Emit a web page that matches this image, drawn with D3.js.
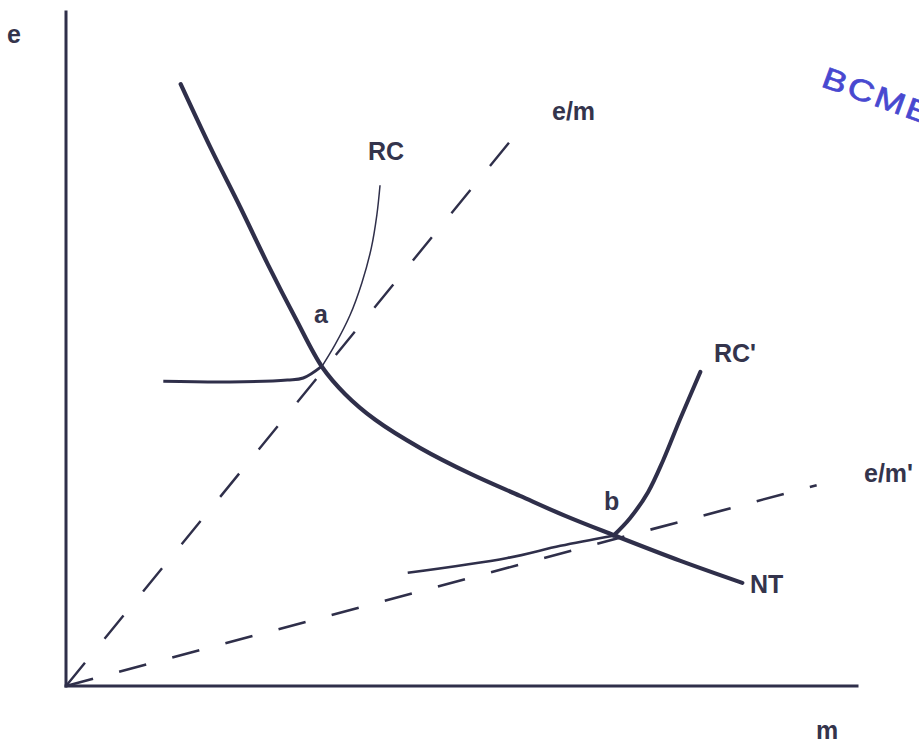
<!DOCTYPE html>
<html>
<head>
<meta charset="utf-8">
<script src="https://cdn.jsdelivr.net/npm/d3@7"></script>
<style>
  html, body { margin: 0; padding: 0; background: #ffffff; }
  svg { display: block; }
  text { font-family: "Liberation Sans", Arial, sans-serif; font-weight: bold; fill: #34344c; }
</style>
</head>
<body>
<div id="chart"></div>
<script>
// ---- data (model units: m on x, e on y, 0..100) ----
const ntM   = [14.5, 18.3, 22.0, 25.5, 29.0, 32.4, 35.3, 39.1, 44.8, 51.1, 57.4, 63.2, 69.2, 77.6, 85.5];
const ntE   = [89.3, 79.8, 71.1, 62.6, 54.6, 47.3, 43.3, 39.5, 35.3, 31.5, 28.2, 25.2, 22.4, 18.6, 15.3];

const rcFlatM = [12.3, 20.7, 28.0, 30.0, 32.4];
const rcFlatE = [45.2, 45.1, 45.4, 45.7, 47.5];
const rcRiseM = [32.4, 34.0, 35.9, 37.4, 38.6, 39.3, 39.7];
const rcRiseE = [47.5, 50.6, 55.0, 59.8, 65.0, 69.9, 74.3];

const rc2FlatM = [43.2, 55.8, 62.5, 69.2];
const rc2FlatE = [16.8, 19.0, 20.8, 22.3];
const rc2RiseM = [69.2, 71.3, 73.6, 75.5, 77.6, 80.2];
const rc2RiseE = [22.3, 24.9, 28.8, 33.5, 39.5, 46.6];

const emM  = [0, 57.1];
const emE  = [0, 82.2];
const em2M = [0, 94.9];
const em2E = [0, 29.8];

const labels = ["e", "m", "e/m", "RC", "a", "RC'", "e/m'", "b", "NT"];
const watermark = "BCME";

// ---- drawing ----
const W = 919, H = 744;
const ink = "#2f2f4a";
const svg = d3.select("#chart").append("svg").attr("width", W).attr("height", H);

const x = d3.scaleLinear().domain([0, 100]).range([66, 857]);
const y = d3.scaleLinear().domain([0, 100]).range([686, 12]);

const zip = (a, b) => a.map((v, i) => [v, b[i]]);
const smooth = d3.line().x(d => x(d[0])).y(d => y(d[1])).curve(d3.curveCatmullRom.alpha(0.5));
const straight = d3.line().x(d => x(d[0])).y(d => y(d[1]));

// axes
svg.append("line").attr("x1", x(0)).attr("y1", y(0)).attr("x2", x(0)).attr("y2", y(100))
  .attr("stroke", ink).attr("stroke-width", 3).attr("stroke-linecap", "square");
svg.append("line").attr("x1", x(0)).attr("y1", y(0)).attr("x2", x(100)).attr("y2", y(0))
  .attr("stroke", ink).attr("stroke-width", 3).attr("stroke-linecap", "square");

// dashed rays
svg.append("path").attr("d", straight(zip(emM, emE))).attr("fill", "none")
  .attr("stroke", ink).attr("stroke-width", 2.4).attr("stroke-dasharray", "30,31");
svg.append("path").attr("d", straight(zip(em2M, em2E))).attr("fill", "none")
  .attr("stroke", ink).attr("stroke-width", 2.6).attr("stroke-dasharray", "28,27");

// RC
svg.append("path").attr("d", smooth(zip(rcFlatM, rcFlatE))).attr("fill", "none")
  .attr("stroke", ink).attr("stroke-width", 3);
svg.append("path").attr("d", smooth(zip(rcRiseM, rcRiseE))).attr("fill", "none")
  .attr("stroke", ink).attr("stroke-width", 1.5);

// RC'
svg.append("path").attr("d", smooth(zip(rc2FlatM, rc2FlatE))).attr("fill", "none")
  .attr("stroke", ink).attr("stroke-width", 2.6);
svg.append("path").attr("d", smooth(zip(rc2RiseM, rc2RiseE))).attr("fill", "none")
  .attr("stroke", ink).attr("stroke-width", 4).attr("stroke-linecap", "round");

// NT
svg.append("path").attr("d", smooth(zip(ntM, ntE))).attr("fill", "none")
  .attr("stroke", ink).attr("stroke-width", 4.2).attr("stroke-linecap", "round");

// labels
const labelPos = {
  "e":    [7, 43],
  "m":    [816, 739],
  "e/m":  [552, 120],
  "RC":   [368, 160],
  "a":    [314, 323],
  "RC'":  [714, 362],
  "e/m'": [864, 482],
  "b":    [604, 510],
  "NT":   [750, 593]
};
labels.forEach(t => {
  svg.append("text").attr("x", labelPos[t][0]).attr("y", labelPos[t][1])
    .attr("font-size", 25).text(t);
});

// watermark stamp (cut by the right edge, as in the scan)
svg.append("text")
  .attr("transform", "translate(820,86) rotate(20) scale(1.22,1)")
  .attr("font-size", 30).attr("letter-spacing", 2)
  .style("font-weight", "normal").style("fill", "#4848d0")
  .style("stroke", "#4848d0").style("stroke-width", 0.7)
  .text(watermark);
</script>
</body>
</html>
